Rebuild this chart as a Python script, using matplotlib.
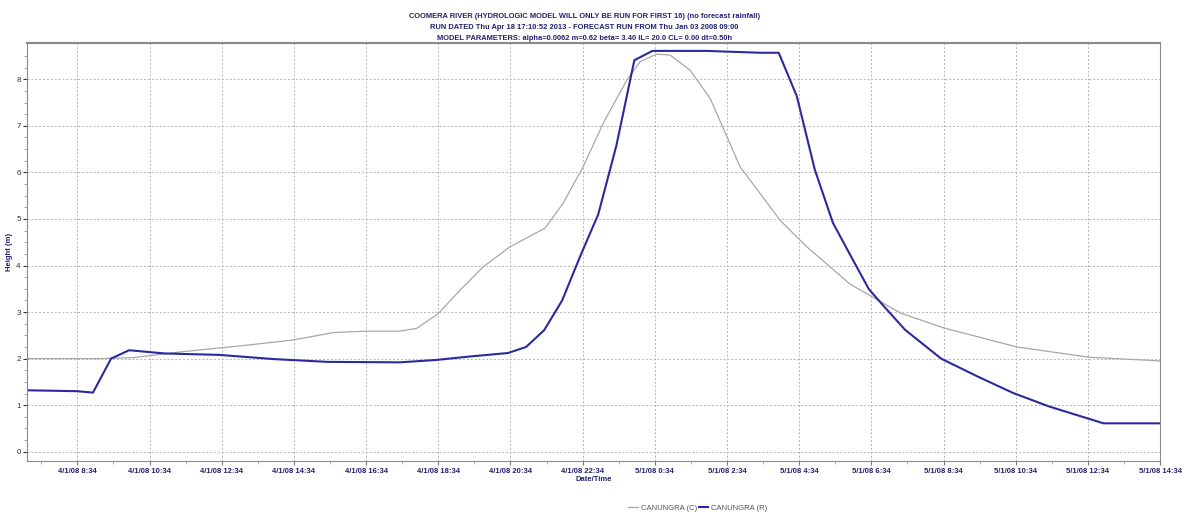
import datetime as dt
import matplotlib
matplotlib.use("Agg")
import matplotlib.pyplot as plt
import matplotlib.dates as mdates

# hours after 4/1/08 00:00 and heights (m)
hours_c = [7.17, 9.19, 10.11, 11.49, 13.16, 14.55, 15.66, 16.58, 17.50, 17.97, 18.57,
           19.17, 19.81, 20.55, 21.52, 22.03, 22.58, 23.14, 23.79, 24.16, 24.62, 24.99,
           25.54, 26.10, 26.93, 28.04, 28.78, 29.98, 31.37, 32.57, 34.60, 36.60, 38.57]
height_c = [2.00, 2.00, 2.02, 2.15, 2.28, 2.40, 2.56, 2.59, 2.59, 2.65, 2.97,
            3.47, 3.97, 4.40, 4.80, 5.34, 6.12, 7.06, 7.98, 8.38, 8.54, 8.52,
            8.20, 7.59, 6.12, 4.97, 4.40, 3.60, 2.98, 2.66, 2.25, 2.03, 1.95]

hours_r = [7.17, 8.55, 9.0, 9.5, 10.0, 11.0, 12.5, 14.0, 15.5, 17.5, 18.5, 19.5,
           20.5, 21.0, 21.5, 22.0, 22.5, 23.0, 23.5, 24.0, 24.5, 26.0, 27.5, 28.0,
           28.5, 29.0, 29.5, 30.0, 30.5, 31.0, 31.5, 32.5, 33.5, 34.5, 35.5, 37.0, 38.57]
height_r = [1.32, 1.30, 1.27, 2.00, 2.18, 2.11, 2.08, 1.99, 1.93, 1.92, 1.97, 2.05,
            2.12, 2.25, 2.61, 3.25, 4.20, 5.10, 6.57, 8.41, 8.61, 8.61, 8.57, 8.57,
            7.64, 6.06, 4.92, 4.20, 3.49, 3.05, 2.62, 2.00, 1.62, 1.26, 0.97, 0.61, 0.61]

title_lines = ["COOMERA RIVER (HYDROLOGIC MODEL WILL ONLY BE RUN FOR FIRST 16) (no forecast rainfall)",
               "RUN DATED Thu Apr 18 17:10:52 2013 - FORECAST RUN FROM Thu Jan 03 2008 09:00",
               "MODEL PARAMETERS: alpha=0.0062 m=0.62 beta= 3.40 IL= 20.0 CL= 0.00 dt=0.50h"]

base = dt.datetime(2008, 1, 4, 0, 0)
navy = "#22226e"

def to_dates(hrs):
    return [base + dt.timedelta(hours=h) for h in hrs]

plt.rcParams['font.family'] = ['Liberation Sans', 'DejaVu Sans']

fig = plt.figure(figsize=(11.83, 5.23), dpi=100)
ax = fig.add_axes([0.0228, 0.1185, 0.9578, 0.7993])

ax.plot(to_dates(hours_c), height_c, color="#a8a8a8", lw=0.9, label="CANUNGRA (C)")
ax.plot(to_dates(hours_r), height_r, color="#2a2a9e", lw=1.5, label="CANUNGRA (R)")

start = base + dt.timedelta(hours=7.17)
end = base + dt.timedelta(hours=38 + 34 / 60)
ax.set_xlim(start, end)
ax.set_ylim(-0.2, 8.78)

ticks = [base + dt.timedelta(hours=8 + 34 / 60 + 2 * i) for i in range(16)]
minor = [base + dt.timedelta(hours=7 + 34 / 60 + i) for i in range(32)]
ax.set_xticks(mdates.date2num(ticks))
ax.set_xticks(mdates.date2num(minor), minor=True)
ax.set_xticklabels([f"{d.day}/{d.month}/{d:%y} {d.hour}:{d.minute:02d}" for d in ticks],
                   fontsize=5.5, fontweight="bold", color=navy)
ax.set_yticks(range(0, 9))
ax.set_yticks([i * 0.25 for i in range(0, 35)], minor=True)
ax.tick_params(axis="y", labelsize=5.8, colors="#333333", length=3, pad=1.5)
ax.tick_params(axis="x", length=3, pad=2, color="#777777")
ax.tick_params(which="minor", length=2, color="#999999")

ax.grid(True, which="major", color="#b5b5b5", linestyle=(0, (2, 2)), lw=0.7)
for s in ax.spines.values():
    s.set_color("#8a8a8a")
ax.spines["top"].set_linewidth(1.5)

ax.set_xlabel("Date/Time", fontsize=5.5, fontweight="bold", color=navy, labelpad=1)
ax.set_ylabel("Height (m)", fontsize=5.5, fontweight="bold", color=navy, labelpad=2)

for i, line in enumerate(title_lines):
    fig.text(0.494, 0.9675 - i * 0.0205, line, ha="center", va="center",
             fontsize=5.4, fontweight="bold", color=navy)

leg = fig.legend(loc="center", bbox_to_anchor=(0.59, 0.028), ncol=2, frameon=False,
                 fontsize=5.5, handlelength=1.2, handletextpad=0.4, columnspacing=0.3)
for t in leg.get_texts():
    t.set_color("#555555")

fig.savefig("out.png", dpi=100, facecolor="white")
